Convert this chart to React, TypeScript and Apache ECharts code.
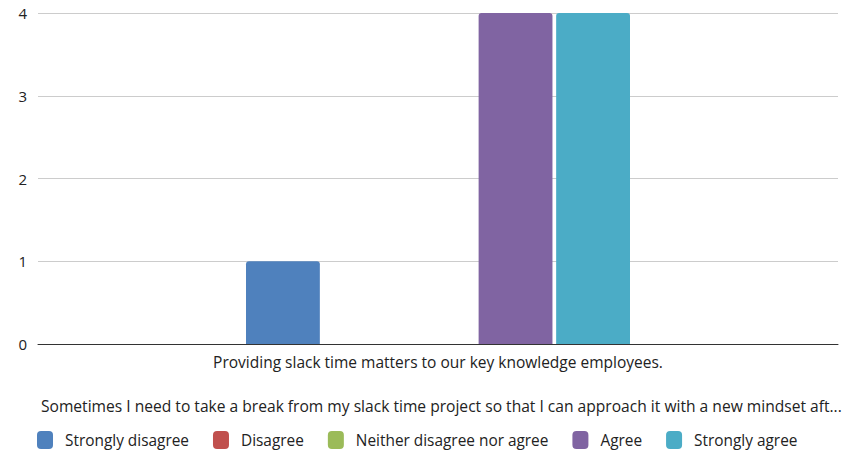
import React, { useEffect, useRef } from "react";
import * as echarts from "echarts";

const categories = ["Providing slack time matters to our key knowledge employees."];
const seriesNames = ["Strongly disagree", "Disagree", "Neither disagree nor agree", "Agree", "Strongly agree"];
const seriesValues = [[1], [0], [0], [4], [4]];
const seriesColors = ["#4F81BD", "#C0504D", "#9BBB59", "#8064A2", "#4BACC6"];
const yTicks = [0, 1, 2, 3, 4];
const titleText = "Sometimes I need to take a break from my slack time project so that I can approach it with a new mindset aft...";

export default function App() {
  const ref = useRef<HTMLDivElement>(null);
  useEffect(() => {
    if (!ref.current) return;
    const chart = echarts.init(ref.current, undefined, { renderer: "svg" });
    const font = "'Open Sans', sans-serif";
    chart.setOption({
      animation: false,
      textStyle: { fontFamily: font },
      title: {
        text: titleText,
        left: 36,
        top: 393,
        textStyle: { fontFamily: font, fontSize: 15.6, fontWeight: "normal", color: "#222" },
      },
      legend: {
        bottom: 0,
        left: 32,
        itemWidth: 16,
        itemHeight: 18,
        itemGap: 24,
        icon: "roundRect",
        textStyle: { fontFamily: font, fontSize: 15.4, color: "#222", padding: [0, 0, 0, 7] },
        data: seriesNames,
      },
      grid: { left: 38, right: 12, top: 13, bottom: 110, containLabel: false },
      xAxis: {
        type: "category",
        data: categories,
        axisLine: { lineStyle: { color: "#333", width: 1 } },
        axisTick: { show: false },
        axisLabel: { fontFamily: font, fontSize: 15.5, color: "#222", margin: 10 },
      },
      yAxis: {
        type: "value",
        min: yTicks[0],
        max: yTicks[yTicks.length - 1],
        interval: 1,
        axisLabel: { fontFamily: font, fontSize: 15, color: "#222", margin: 11 },
        splitLine: { lineStyle: { color: "#cccccc" } },
        axisLine: { show: false },
        axisTick: { show: false },
      },
      series: seriesNames.map((name, i) => ({
        name,
        type: "bar",
        data: seriesValues[i],
        barCategoryGap: "52%",
        barGap: "5%",
        itemStyle: { color: seriesColors[i], borderRadius: [3, 3, 0, 0] },
      })),
    });
    return () => chart.dispose();
  }, []);
  return (
    <div
      ref={ref}
      style={{ position: "fixed", left: 0, top: 0, width: 850, height: 454, background: "#fff" }}
    />
  );
}
